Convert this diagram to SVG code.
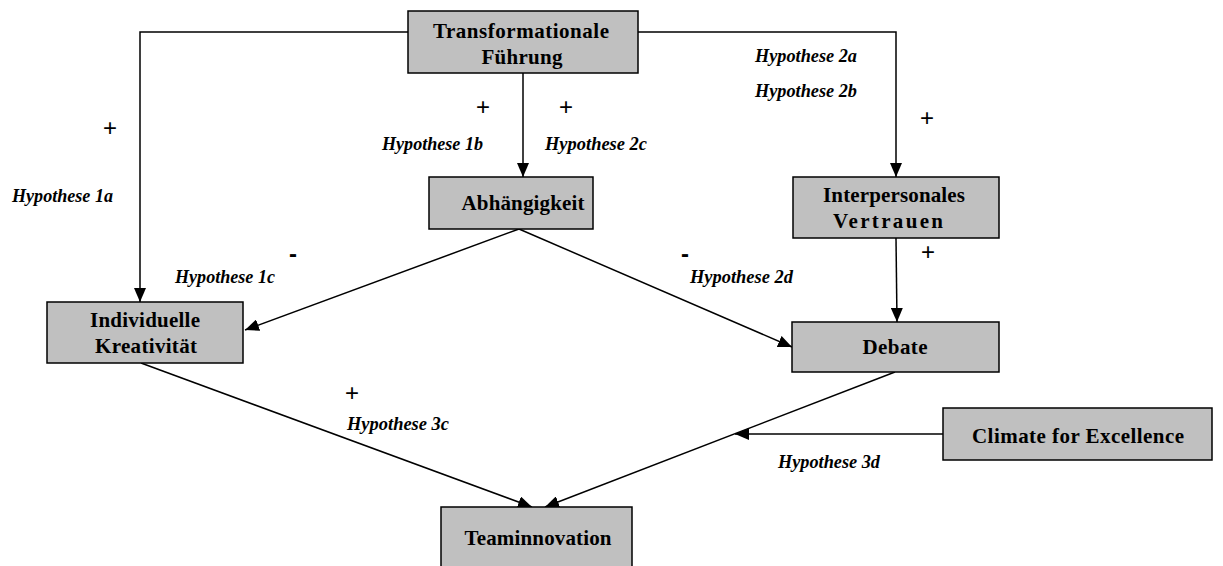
<svg xmlns="http://www.w3.org/2000/svg" width="1223" height="566" viewBox="0 0 1223 566">
<style>
.box{fill:#c0c0c0;stroke:#000;stroke-width:1.5}
.bt{font-family:"Liberation Serif","Times New Roman",serif;font-weight:bold;font-size:21px;fill:#000;text-anchor:middle}
.hy{font-family:"Liberation Serif","Times New Roman",serif;font-weight:bold;font-style:italic;font-size:18px;fill:#000}
.sg{font-family:"Liberation Sans",Arial,sans-serif;font-size:24px;fill:#000;text-anchor:middle}
.ln{fill:none;stroke:#000;stroke-width:1.5}
</style>
<defs>
<marker id="ah" markerUnits="userSpaceOnUse" markerWidth="14" markerHeight="12" refX="14" refY="6" orient="auto" viewBox="0 0 14 12">
<path d="M0,0 L14,6 L0,12 Z" fill="#000"/>
</marker>
</defs>
<rect width="1223" height="566" fill="#fff"/>
<g id="connectors">
<path class="ln" d="M408,32 H140 V302" marker-end="url(#ah)"/>
<path class="ln" d="M638,32 H896 V177" marker-end="url(#ah)"/>
<path class="ln" d="M523,73 V177" marker-end="url(#ah)"/>
<path class="ln" d="M519,229 L245,330" marker-end="url(#ah)"/>
<path class="ln" d="M519,229 L792,347" marker-end="url(#ah)"/>
<path class="ln" d="M896,238 L897,322" marker-end="url(#ah)"/>
<path class="ln" d="M141,363 L532,507" marker-end="url(#ah)"/>
<path class="ln" d="M895,372 L545,507" marker-end="url(#ah)"/>
<path class="ln" d="M943,434 H735" marker-end="url(#ah)"/>
</g>
<g id="n-transformationale">
<rect class="box" x="408" y="11" width="230" height="62"/>
<text class="bt" x="521" y="38" textLength="176" lengthAdjust="spacing">Transformationale</text>
<text class="bt" x="522" y="64" textLength="81" lengthAdjust="spacing">Führung</text>
</g>
<g id="n-abhaengigkeit">
<rect class="box" x="429" y="177" width="164" height="52"/>
<text class="bt" x="523" y="210" textLength="123" lengthAdjust="spacing">Abhängigkeit</text>
</g>
<g id="n-vertrauen">
<rect class="box" x="793" y="177" width="206" height="61"/>
<text class="bt" x="894" y="202" textLength="142" lengthAdjust="spacing">Interpersonales</text>
<text class="bt" x="888" y="228" textLength="110" lengthAdjust="spacing">Vertrauen</text>
</g>
<g id="n-kreativitaet">
<rect class="box" x="47" y="302" width="196" height="61"/>
<text class="bt" x="145" y="327" textLength="110" lengthAdjust="spacing">Individuelle</text>
<text class="bt" x="146" y="353" textLength="102" lengthAdjust="spacing">Kreativität</text>
</g>
<g id="n-debate">
<rect class="box" x="792" y="322" width="207" height="50"/>
<text class="bt" x="895" y="354" textLength="65" lengthAdjust="spacing">Debate</text>
</g>
<g id="n-climate">
<rect class="box" x="943" y="408" width="269" height="52"/>
<text class="bt" x="1078" y="443" textLength="212" lengthAdjust="spacing">Climate for Excellence</text>
</g>
<g id="n-teaminnovation">
<rect class="box" x="441" y="507" width="191" height="63"/>
<text class="bt" x="538" y="545" textLength="147" lengthAdjust="spacing">Teaminnovation</text>
</g>
<g id="labels">
<text class="hy" x="12" y="202" textLength="101" lengthAdjust="spacingAndGlyphs">Hypothese 1a</text>
<text class="hy" x="382" y="150" textLength="101" lengthAdjust="spacingAndGlyphs">Hypothese 1b</text>
<text class="hy" x="545" y="150" textLength="102" lengthAdjust="spacingAndGlyphs">Hypothese 2c</text>
<text class="hy" x="755" y="62" textLength="102" lengthAdjust="spacingAndGlyphs">Hypothese 2a</text>
<text class="hy" x="755" y="97" textLength="102" lengthAdjust="spacingAndGlyphs">Hypothese 2b</text>
<text class="hy" x="175" y="283" textLength="100" lengthAdjust="spacingAndGlyphs">Hypothese 1c</text>
<text class="hy" x="690" y="283" textLength="103" lengthAdjust="spacingAndGlyphs">Hypothese 2d</text>
<text class="hy" x="347" y="430" textLength="102" lengthAdjust="spacingAndGlyphs">Hypothese 3c</text>
<text class="hy" x="778" y="468" textLength="102" lengthAdjust="spacingAndGlyphs">Hypothese 3d</text>
<text class="sg" x="110" y="136">+</text>
<text class="sg" x="483" y="115">+</text>
<text class="sg" x="566" y="115">+</text>
<text class="sg" x="927" y="126">+</text>
<text class="sg" x="928" y="260">+</text>
<text class="sg" x="352" y="401">+</text>
<text class="sg" x="293" y="262" style="font-weight:bold">-</text>
<text class="sg" x="685" y="262" style="font-weight:bold">-</text>
</g>
</svg>
